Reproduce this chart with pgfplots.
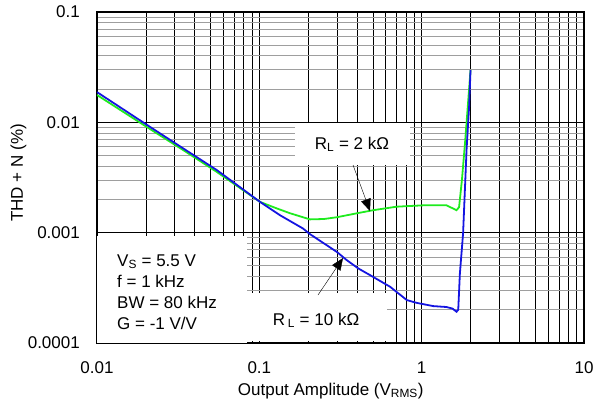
\documentclass[border=0pt]{standalone}
\usepackage{pgfplots}
\pgfplotsset{compat=1.18}
\usepackage{fontspec}
\setmainfont{Liberation Sans}
\usetikzlibrary{arrows.meta}
\definecolor{cgreen}{RGB}{30,235,30}
\definecolor{cblue}{RGB}{20,20,225}
\newcommand{\lf}{\fontsize{17bp}{20bp}\selectfont}
\begin{document}
\begin{tikzpicture}
\begin{axis}[
  xmode=log, ymode=log,
  scale only axis, width=487bp, height=331bp,
  xmin=0.01, xmax=10, ymin=0.0001, ymax=0.1,
  xtick={0.01,0.1,1,10}, xticklabels={0.01,0.1,1,10},
  ytick={0.0001,0.001,0.01,0.1}, yticklabels={0.0001,0.001,0.01,0.1},
  major tick length=0pt, minor tick length=0pt,
  grid=both,
  major grid style={black, line width=0.6pt},
  minor x grid style={black, line width=0.5pt},
  minor y grid style={black!38, line width=1pt},
  axis line style={black, line width=1.6pt},
  every tick label/.append style={font=\lf},
  xticklabel style={anchor=base, inner sep=0pt, yshift=-30bp},
  yticklabel style={anchor=east, inner sep=0pt, xshift=-17bp},
  label style={font=\lf},
  xlabel={Output Amplitude (V\textsubscript{RMS})},
  xlabel style={at={(rel axis cs:0.48,0)}, anchor=base, inner sep=0pt, yshift=-52bp},
  ylabel={THD + N (\%)},
  ylabel style={at={(rel axis cs:-0.161,0.514)}, anchor=center, inner sep=0pt},
]
\addplot[cgreen, line width=1.8pt] coordinates {
(0.01,0.0177) (0.0212,0.0087) (0.034,0.0056) (0.0546,0.00356) (0.101,0.0019)
(0.128,0.00166) (0.1546,0.0015) (0.205,0.00132) (0.25,0.00133) (0.30,0.00138)
(0.40,0.00150) (0.505,0.0016) (0.70,0.00172) (1.025,0.00177) (1.42,0.00177)
(1.57,0.00165) (1.64,0.0016) (1.70,0.0017) (1.77,0.003) (1.85,0.0065) (2.0,0.0298)
};
\addplot[cblue, line width=1.8pt] coordinates {
(0.01,0.0188) (0.0212,0.0091) (0.034,0.0058) (0.0546,0.0037) (0.101,0.0019)
(0.134,0.00144) (0.186,0.00109) (0.205,0.00097) (0.30,0.00067) (0.345,0.000565)
(0.407,0.000474) (0.48,0.000413) (0.64,0.000323) (0.81,0.000245) (0.933,0.000231)
(1.18,0.000216) (1.42,0.000212) (1.55,0.000205) (1.64,0.000192) (1.68,0.0002)
(1.72,0.000427) (1.80,0.00099) (1.89,0.0056) (1.96,0.0138) (2.0,0.0298)
};
% R_L = 2 kOhm
\fill[white] (rel axis cs:0.4066,0.5378) rectangle (rel axis cs:0.6427,0.6647);
\node[font=\lf, anchor=base, inner sep=0pt] at (rel axis cs:0.5236,0.586) {R\textsubscript{L} = 2 kΩ};
\draw[-{Triangle[length=12bp,width=10bp]}, line width=0.4pt] (rel axis cs:0.5257,0.5378) -- (rel axis cs:0.5606,0.3988);
% R_L = 10 kOhm
\fill[white] (rel axis cs:0.2977,0.006) rectangle (rel axis cs:0.5955,0.151);
\node[font=\lf, anchor=base, inner sep=0pt] at (rel axis cs:0.4497,0.0544) {R\,\textsubscript{L} = 10 kΩ};
\draw[-{Triangle[length=12bp,width=10bp]}, line width=0.4pt] (rel axis cs:0.4538,0.145) -- (rel axis cs:0.5051,0.2568);
% conditions
\fill[white] (rel axis cs:0,0) rectangle (rel axis cs:0.308,0.3233);
\node[font=\lf, anchor=base west, inner sep=0pt] at (rel axis cs:0.041,0.2326) {V\textsubscript{S} = 5.5 V};
\node[font=\lf, anchor=base west, inner sep=0pt] at (rel axis cs:0.041,0.1692) {f = 1 kHz};
\node[font=\lf, anchor=base west, inner sep=0pt] at (rel axis cs:0.041,0.1057) {BW = 80 kHz};
\node[font=\lf, anchor=base west, inner sep=0pt] at (rel axis cs:0.041,0.0423) {G = -1 V/V};
\end{axis}
\pgfresetboundingbox
\path[use as bounding box] ([xshift=-97bp,yshift=-61bp]current axis.south west) rectangle ([xshift=11bp,yshift=12bp]current axis.north east);
\end{tikzpicture}
\end{document}
